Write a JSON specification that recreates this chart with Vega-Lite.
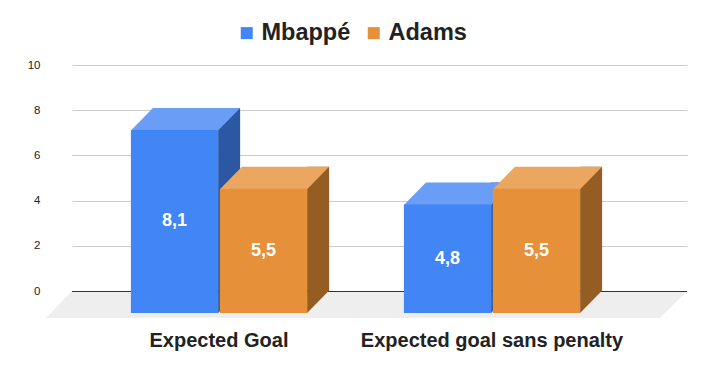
{
  "$schema": "https://vega.github.io/schema/vega-lite/v6.json",
  "width": 615,
  "height": 226,
  "autosize": "none",
  "padding": {"left": 72, "top": 65, "right": 19, "bottom": 80},
  "background": "white",
  "config": {
    "view": {"stroke": null},
    "font": "Liberation Sans",
    "locale": {"number": {"decimal": ",", "thousands": " ", "grouping": [3], "currency": ["", " €"]}}
  },
  "datasets": {
    "main": [
      {"category": "Expected Goal", "player": "Mbappé", "value": 8.1},
      {"category": "Expected Goal", "player": "Adams", "value": 5.5},
      {"category": "Expected goal sans penalty", "player": "Mbappé", "value": 4.8},
      {"category": "Expected goal sans penalty", "player": "Adams", "value": 5.5}
    ]
  },
  "layer": [
    {
      "data": {"values": [{}]},
      "mark": {"type": "point", "shape": "M-615,0L0,0L-27,27L-641,27Z", "size": 4, "filled": true, "opacity": 1, "fill": "#eeeeee", "strokeWidth": 0, "x": "width", "y": "height"},
      "encoding": {}
    },
    {
      "data": {"values": [{}]},
      "mark": {"type": "point", "shape": "M-615,0.5L0,0.5", "size": 4, "filled": false, "opacity": 1, "stroke": "#333333", "strokeWidth": 1, "x": "width", "y": "height"},
      "encoding": {}
    },
    {
      "data": {"name": "main"},
      "mark": {"type": "bar", "width": 22},
      "encoding": {
        "x": {"field": "category", "type": "nominal", "sort": ["Expected Goal", "Expected goal sans penalty"], "scale": {"paddingInner": 0.3546, "paddingOuter": 0.3037, "align": 0.6846}, "axis": null},
        "xOffset": {"field": "player", "type": "nominal", "sort": ["Mbappé", "Adams"], "scale": {"type": "band", "paddingInner": 0.02, "paddingOuter": 0}},
        "y": {"field": "value", "type": "quantitative", "scale": {"domain": [0, 10], "nice": false}, "axis": null},
        "fill": {"condition": {"test": "datum.player === 'Mbappé'", "value": "#2c58a3"}, "value": "#955c24"}
      }
    },
    {
      "data": {"name": "main"},
      "mark": {"type": "point", "shape": "M21.6,-0.5L43.6,-0.5L21.6,22Z", "size": 4, "filled": true, "opacity": 1, "strokeWidth": 0},
      "encoding": {
        "x": {"field": "category", "type": "nominal", "sort": ["Expected Goal", "Expected goal sans penalty"], "scale": {"paddingInner": 0.3546, "paddingOuter": 0.3037, "align": 0.488}, "axis": null},
        "xOffset": {"field": "player", "type": "nominal", "sort": ["Mbappé", "Adams"], "scale": {"type": "band", "paddingInner": 0.02, "paddingOuter": 0}},
        "y": {"datum": 0, "type": "quantitative", "scale": {"domain": [0, 10], "nice": false}, "axis": null},
        "fill": {"condition": {"test": "datum.player === 'Mbappé'", "value": "#2c58a3"}, "value": "#955c24"}
      }
    },
    {
      "data": {"name": "main"},
      "mark": {"type": "point", "shape": "M-43.6,0L43.6,0L21.6,22.5L-65.6,22.5Z", "size": 4, "filled": true, "opacity": 1, "strokeWidth": 0},
      "encoding": {
        "x": {"field": "category", "type": "nominal", "sort": ["Expected Goal", "Expected goal sans penalty"], "scale": {"paddingInner": 0.3546, "paddingOuter": 0.3037, "align": 0.488}, "axis": null},
        "xOffset": {"field": "player", "type": "nominal", "sort": ["Mbappé", "Adams"], "scale": {"type": "band", "paddingInner": 0.02, "paddingOuter": 0}},
        "y": {"field": "value", "type": "quantitative", "scale": {"domain": [0, 10], "nice": false}, "axis": null},
        "fill": {"condition": {"test": "datum.player === 'Mbappé'", "value": "#6a9ef6"}, "value": "#eba65f"}
      }
    },
    {
      "data": {"name": "main"},
      "mark": {"type": "bar", "yOffset": 22, "y2Offset": 22},
      "encoding": {
        "x": {
          "field": "category", "type": "nominal", "sort": ["Expected Goal", "Expected goal sans penalty"],
          "scale": {"paddingInner": 0.3546, "paddingOuter": 0.3037, "align": 0.3552},
          "axis": {"title": null, "ticks": false, "domain": false, "labelPadding": 49, "labelBaseline": "middle", "labelFont": "Liberation Sans", "labelFontSize": 20, "labelFontWeight": "bold", "labelColor": "#222222", "labelAngle": 0, "labelLimit": 0}
        },
        "xOffset": {"field": "player", "type": "nominal", "sort": ["Mbappé", "Adams"], "scale": {"type": "band", "paddingInner": 0.02, "paddingOuter": 0}},
        "y": {
          "field": "value", "type": "quantitative",
          "scale": {"domain": [0, 10], "nice": false},
          "axis": {"title": null, "values": [0, 2, 4, 6, 8, 10], "grid": true, "gridColor": "#cccccc", "domain": false, "ticks": false, "labelPadding": 32, "labelFont": "Liberation Sans", "labelFontSize": 11.5, "labelColor": "#222222"}
        },
        "color": {
          "field": "player", "type": "nominal",
          "scale": {"domain": ["Mbappé", "Adams"], "range": ["#4285f4", "#e6913a"]},
          "legend": {"title": null, "orient": "none", "legendX": 163, "legendY": -44, "direction": "horizontal", "padding": 0, "symbolType": "square", "symbolSize": 144, "symbolStrokeWidth": 0, "symbolOpacity": 1, "labelFont": "Liberation Sans", "labelFontSize": 23.5, "labelFontWeight": "bold", "labelColor": "#222222", "labelOffset": 3, "columnPadding": 11}
        }
      }
    },
    {
      "data": {"name": "main"},
      "mark": {"type": "text", "dy": 22, "font": "Liberation Sans", "fontWeight": "bold", "fontSize": 18, "color": "white", "baseline": "middle", "align": "center"},
      "encoding": {
        "x": {"field": "category", "type": "nominal", "sort": ["Expected Goal", "Expected goal sans penalty"], "scale": {"paddingInner": 0.3546, "paddingOuter": 0.3037, "align": 0.3552}, "axis": null},
        "xOffset": {"field": "player", "type": "nominal", "sort": ["Mbappé", "Adams"], "scale": {"type": "band", "paddingInner": 0.02, "paddingOuter": 0}},
        "y": {"field": "value", "type": "quantitative", "scale": {"domain": [0, 20], "nice": false}, "axis": null},
        "text": {"field": "value", "type": "quantitative", "format": ".1f"}
      }
    }
  ],
  "resolve": {"scale": {"x": "independent", "xOffset": "independent", "y": "independent"}}
}
